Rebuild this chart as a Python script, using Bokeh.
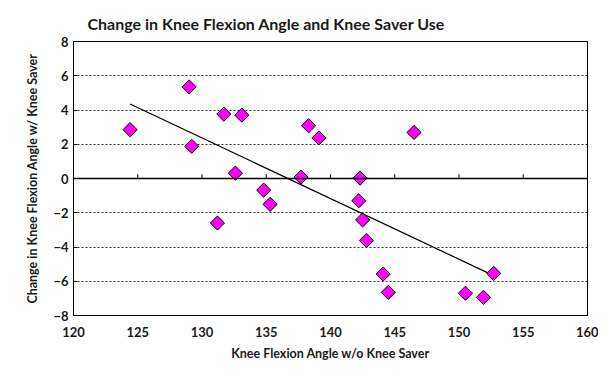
import numpy as np
from bokeh.plotting import figure
from bokeh.models import Span, FixedTicker
from bokeh.embed import file_html
from bokeh.resources import INLINE

# Data
angle_without = [124.4, 129.0, 129.2, 131.7, 133.1, 132.6, 138.3, 139.1, 137.7,
                 134.8, 135.3, 131.2, 146.5, 142.3, 142.2, 142.5, 142.8, 144.1,
                 144.5, 150.5, 151.9, 152.7]
change_with = [2.85, 5.35, 1.88, 3.76, 3.70, 0.31, 3.08, 2.37, 0.08,
               -0.68, -1.51, -2.60, 2.69, 0.02, -1.30, -2.42, -3.62, -5.58,
               -6.65, -6.70, -6.94, -5.54]
x_ticks = [120, 125, 130, 135, 140, 145, 150, 155, 160]
y_ticks = [-8, -6, -4, -2, 0, 2, 4, 6, 8]

FONT = "Lato"

p = figure(width=598, height=363, x_range=(120, 160), y_range=(-8, 8),
           output_backend="svg", toolbar_location=None,
           min_border_left=73, min_border_right=11, min_border_top=41,
           min_border_bottom=47)

p.title.text = "Change in Knee Flexion Angle and Knee Saver Use"
p.title.text_font = FONT
p.title.text_font_size = "16px"
p.title.text_font_style = "bold"
p.title.text_color = "#1a1a1a"
p.title.align = "left"
p.title.offset = 14
p.title.standoff = 18

p.outline_line_color = "black"
p.outline_line_width = 1

# grids
p.xgrid.visible = False
p.ygrid.ticker = FixedTicker(ticks=[t for t in y_ticks if t != 0])
p.ygrid.grid_line_color = "#333333"
p.ygrid.grid_line_dash = "2 2"
p.ygrid.grid_line_width = 1

# axes
p.xaxis.ticker = FixedTicker(ticks=x_ticks)
p.yaxis.ticker = FixedTicker(ticks=y_ticks)
for ax in (p.xaxis, p.yaxis):
    ax.major_label_text_font = FONT
    ax.major_label_text_font_style = "bold"
    ax.major_label_text_font_size = "13px"
    ax.major_label_text_color = "#1a1a1a"
    ax.axis_label_text_font = FONT
    ax.axis_label_text_font_style = "bold"
    ax.axis_label_text_font_size = "12.5px"
    ax.axis_label_text_color = "#1a1a1a"
    ax.minor_tick_line_color = None
    ax.axis_line_color = "black"
p.xaxis.major_tick_line_color = None
p.xaxis.axis_label = "Knee Flexion Angle w/o Knee Saver"
p.yaxis.axis_label = "Change in Knee Flexion Angle w/ Knee Saver"
p.yaxis.major_tick_in = 4
p.yaxis.major_tick_out = 0
p.xaxis.axis_label_standoff = 6
p.yaxis.axis_label_standoff = 10

# zero line with upward tick marks
p.add_layout(Span(location=0, dimension="width", line_color="black", line_width=1.5))
inner = x_ticks[1:-1]
p.segment(x0=inner, y0=[0] * len(inner), x1=inner, y1=[0.25] * len(inner),
          line_color="black", line_width=1)

# trendline (least squares fit of the data)
slope, intercept = np.polyfit(angle_without, change_with, 1)
xs = [min(angle_without), max(angle_without)]
p.line(xs, [slope * v + intercept for v in xs], line_color="black", line_width=1.2)

# points
p.scatter(angle_without, change_with, marker="square", angle=np.pi / 4, size=10,
          fill_color="#FF00FF", line_color="black", line_width=1)

open("out.html", "w").write(file_html(p, INLINE))
